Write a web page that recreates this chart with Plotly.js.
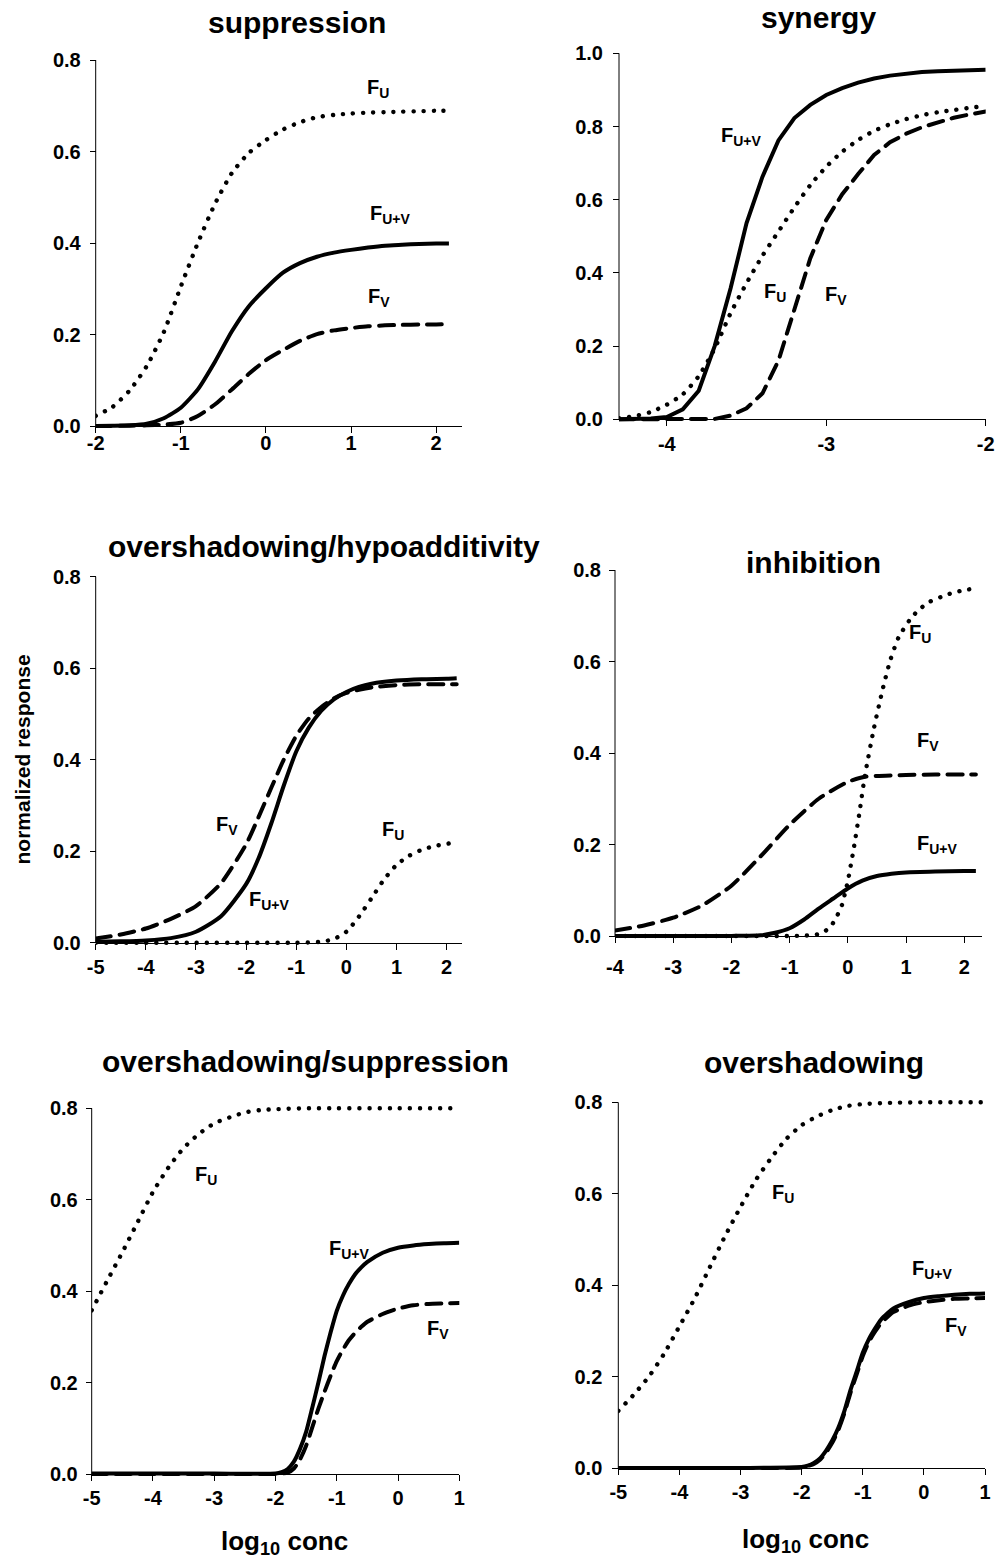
<!DOCTYPE html>
<html><head><meta charset="utf-8">
<script src="https://cdn.plot.ly/plotly-3.0.1.min.js"></script>
<style>html,body{margin:0;padding:0;background:#fff}</style>
</head><body><div id="chart" style="width:1003px;height:1566px"></div>
<script>
// ---------- data ----------
// panel 1: suppression
const sup_x  = [-2,-1.8,-1.6,-1.4,-1.2,-1.0,-0.8,-0.6,-0.4,-0.2,0,0.2,0.4,0.6,0.8,1.0,1.2,1.4,1.6,1.8,2.0,2.15];
const sup_U  = [0.022,0.042,0.078,0.131,0.205,0.305,0.400,0.485,0.553,0.597,0.625,0.648,0.664,0.675,0.680,0.683,0.685,0.686,0.687,0.688,0.689,0.689];
const sup_UV = [0,0.0005,0.0015,0.005,0.017,0.040,0.080,0.140,0.207,0.262,0.301,0.335,0.356,0.370,0.379,0.385,0.390,0.394,0.396,0.398,0.399,0.399];
const sup_V  = [0,0.0003,0.0008,0.0015,0.003,0.007,0.022,0.047,0.080,0.114,0.144,0.166,0.186,0.201,0.209,0.214,0.218,0.220,0.221,0.222,0.222,0.223];

// panel 2: synergy
const syn_x  = [-4.3,-4.2,-4.1,-4.0,-3.9,-3.8,-3.7,-3.6,-3.5,-3.4,-3.3,-3.2,-3.1,-3.0,-2.9,-2.8,-2.7,-2.6,-2.5,-2.4,-2.3,-2.2,-2.1,-2.0];
const syn_UV = [0,0.0005,0.002,0.006,0.027,0.078,0.200,0.358,0.536,0.663,0.762,0.823,0.859,0.886,0.905,0.920,0.931,0.939,0.945,0.949,0.951,0.953,0.954,0.955];
const syn_U  = [0.003,0.009,0.020,0.040,0.068,0.118,0.193,0.290,0.372,0.447,0.513,0.579,0.640,0.690,0.731,0.763,0.788,0.806,0.820,0.831,0.839,0.845,0.851,0.856];
const syn_V  = [0,0,0,0,0,0.0002,0.001,0.010,0.030,0.071,0.160,0.300,0.440,0.545,0.615,0.670,0.722,0.757,0.780,0.798,0.812,0.824,0.833,0.841];

// panel 3: overshadowing/hypoadditivity
const hyp_x  = [-5,-4.5,-4,-3.5,-3,-2.5,-2,-1.75,-1.5,-1.25,-1,-0.75,-0.5,-0.25,0,0.25,0.5,1,1.5,2,2.2];
const hyp_UV = [0.002,0.003,0.005,0.010,0.024,0.058,0.128,0.185,0.260,0.343,0.418,0.470,0.507,0.532,0.548,0.559,0.566,0.573,0.576,0.577,0.578];
const hyp_V  = [0.009,0.018,0.031,0.052,0.080,0.130,0.215,0.275,0.338,0.400,0.452,0.490,0.515,0.534,0.546,0.553,0.558,0.563,0.565,0.565,0.565];
const hyp_U_x = [-5,-4,-3,-2,-1,-0.5,-0.25,0,0.25,0.5,0.75,1.0,1.25,1.5,1.75,2.05];
const hyp_U   = [0,0,0,0,0,0.002,0.008,0.024,0.057,0.097,0.138,0.170,0.190,0.203,0.211,0.217];

// panel 4: inhibition
const inh_V_x  = [-4,-3.5,-3,-2.5,-2,-1.5,-1,-0.5,0,0.3,0.5,1,1.5,2,2.2];
const inh_V    = [0.012,0.023,0.040,0.067,0.110,0.174,0.243,0.300,0.337,0.348,0.350,0.352,0.353,0.353,0.353];
const inh_UV_x = [-4,-3,-2,-1.5,-1.25,-1,-0.75,-0.5,-0.25,0,0.25,0.5,0.75,1,1.5,2,2.2];
const inh_UV   = [0,0,0.0002,0.0015,0.007,0.017,0.036,0.060,0.082,0.104,0.121,0.131,0.136,0.139,0.141,0.142,0.142];
const inh_U_x  = [-4,-3,-2,-1.5,-1,-0.8,-0.6,-0.45,-0.3,-0.2,-0.1,-0.05,0,0.1,0.2,0.29,0.45,0.6,0.73,0.87,1.07,1.22,1.4,1.6,1.8,2.0,2.1];
const inh_U    = [0,0,0,0,0,0.0005,0.002,0.006,0.020,0.040,0.068,0.093,0.120,0.190,0.270,0.348,0.455,0.540,0.603,0.652,0.692,0.713,0.730,0.741,0.750,0.756,0.758];

// panel 5: overshadowing/suppression
const oss_U_x = [-5,-4.75,-4.5,-4.25,-4,-3.75,-3.5,-3.25,-3,-2.75,-2.5,-2.25,-2,-1.5,-1,0,1];
const oss_U   = [0.358,0.422,0.485,0.551,0.617,0.670,0.713,0.744,0.767,0.780,0.791,0.796,0.798,0.800,0.800,0.800,0.800];
const oss_x   = [-5,-4,-3,-2,-1.9,-1.8,-1.7,-1.6,-1.5,-1.4,-1.3,-1.2,-1.1,-1.0,-0.9,-0.8,-0.7,-0.6,-0.5,-0.25,0,0.25,0.5,0.75,1.0];
const oss_UV  = [0.001,0.001,0.001,0.001,0.004,0.011,0.027,0.055,0.092,0.145,0.200,0.258,0.310,0.357,0.390,0.416,0.437,0.452,0.464,0.484,0.495,0.500,0.503,0.505,0.506];
const oss_V   = [0,0,0,0,0.001,0.003,0.012,0.032,0.062,0.102,0.143,0.180,0.215,0.247,0.272,0.293,0.309,0.322,0.333,0.350,0.362,0.369,0.372,0.373,0.374];

// panel 6: overshadowing
const ovr_U_x = [-5,-4.75,-4.5,-4.25,-4,-3.75,-3.5,-3.25,-3,-2.75,-2.5,-2.25,-2,-1.75,-1.5,-1.25,-1,-0.5,0,1];
const ovr_U   = [0.125,0.160,0.200,0.250,0.310,0.371,0.440,0.508,0.571,0.630,0.678,0.720,0.750,0.769,0.783,0.792,0.796,0.799,0.800,0.800];
const ovr_x   = [-5,-3,-2,-1.9,-1.8,-1.7,-1.6,-1.5,-1.4,-1.3,-1.2,-1.1,-1.0,-0.9,-0.8,-0.7,-0.6,-0.5,-0.25,0,0.25,0.5,0.75,1.0];
const ovr_UV  = [0,0,0.002,0.005,0.011,0.021,0.038,0.060,0.088,0.125,0.171,0.211,0.252,0.282,0.305,0.325,0.338,0.349,0.363,0.372,0.376,0.379,0.381,0.382];
const ovr_V   = [0,0,0.001,0.004,0.009,0.018,0.034,0.055,0.083,0.120,0.165,0.205,0.245,0.276,0.298,0.317,0.330,0.341,0.355,0.363,0.367,0.370,0.371,0.372];

// tick values / labels (x axes)
const xt_sup = [-2,-1,0,1,2],            xl_sup = ['-2','-1','0','1','2'];
const xt_syn = [-4,-3,-2],               xl_syn = ['-4','-3','-2'];
const xt_hyp = [-5,-4,-3,-2,-1,0,1,2],   xl_hyp = ['-5','-4','-3','-2','-1','0','1','2'];
const xt_inh = [-4,-3,-2,-1,0,1,2],      xl_inh = ['-4','-3','-2','-1','0','1','2'];
const xt_ov  = [-5,-4,-3,-2,-1,0,1],     xl_ov  = ['-5','-4','-3','-2','-1','0','1'];

const titles = ['suppression','synergy','overshadowing/hypoadditivity','inhibition','overshadowing/suppression','overshadowing'];
const LBL_U = 'F<sub>U</sub>', LBL_V = 'F<sub>V</sub>', LBL_UV = 'F<sub>U+V</sub>';
const yTitle = 'normalized response';
const xTitle = 'log<sub>10</sub> conc';

// ---------- layout helpers ----------
const W = 1003, H = 1566;
const FONT = 'Liberation Sans, Arial, Helvetica, sans-serif';
const fx = v => v / W, fy = v => 1 - v / H;
const PAD = 5; // px of extra plot area so thick lines at the range ends are not clipped

const panels = [
  {xd:[95.7,461.7],  yd:[60,426],        xr:[-2,2.3],  yr:[0,0.8], xt:xt_sup, xl:xl_sup, xso:-7,  yso:5},
  {xd:[619,985.7],   yd:[53.3,419.3],    xr:[-4.3,-2], yr:[0,1.0], xt:xt_syn, xl:xl_syn, xso:1,   yso:6},
  {xd:[95.7,461.7],  yd:[576.7,942.7],   xr:[-5,2.3],  yr:[0,0.8], xt:xt_hyp, xl:xl_hyp, xso:5.8, yso:5},
  {xd:[615,981.7],   yd:[570,936],       xr:[-4,2.3],  yr:[0,0.8], xt:xt_inh, xl:xl_inh, xso:7,   yso:4},
  {xd:[91.7,459.3],  yd:[1108.3,1474],   xr:[-5,1],    yr:[0,0.8], xt:xt_ov,  xl:xl_ov,  xso:4.5, yso:4},
  {xd:[618.3,985],   yd:[1102.3,1468],   xr:[-5,1],    yr:[0,0.8], xt:xt_ov,  xl:xl_ov,  xso:5.5, yso:6}
];

const SOLID = {color:'#000', width:4};
const DASH  = {color:'#000', width:4, dash:'15px,9px'};
const DOT   = {color:'#000', width:4.4, dash:'3px,7px'};

function tr(x, y, line, i, shape){
  const s = i === 1 ? '' : String(i);
  return {type:'scatter', mode:'lines', x:x, y:y,
    line:Object.assign({shape:shape || 'spline', smoothing:0.6}, line),
    xaxis:'x'+s, yaxis:'y'+s, hoverinfo:'skip', showlegend:false};
}

const data = [
  tr(sup_x, sup_V, DASH, 1), tr(sup_x, sup_UV, SOLID, 1), tr(sup_x, sup_U, DOT, 1),
  tr(syn_x, syn_V, DASH, 2, 'linear'), tr(syn_x, syn_UV, SOLID, 2, 'linear'), tr(syn_x, syn_U, DOT, 2),
  tr(hyp_x, hyp_V, DASH, 3), tr(hyp_x, hyp_UV, SOLID, 3), tr(hyp_U_x, hyp_U, DOT, 3),
  tr(inh_V_x, inh_V, DASH, 4), tr(inh_UV_x, inh_UV, SOLID, 4), tr(inh_U_x, inh_U, DOT, 4),
  tr(oss_x, oss_V, DASH, 5), tr(oss_x, oss_UV, SOLID, 5), tr(oss_U_x, oss_U, DOT, 5),
  tr(ovr_x, ovr_V, DASH, 6), tr(ovr_x, ovr_UV, SOLID, 6), tr(ovr_U_x, ovr_U, DOT, 6)
];

const tickFont = {family:FONT, size:20, color:'#000', weight:'bold'};
const layout = {
  width:W, height:H, margin:{l:0,r:0,t:0,b:0},
  paper_bgcolor:'#fff', plot_bgcolor:'rgba(0,0,0,0)',
  showlegend:false, annotations:[], shapes:[]
};

panels.forEach((p, k) => {
  const i = k + 1, s = i === 1 ? '' : String(i);
  const perPx = (p.yr[1] - p.yr[0]) / (p.yd[1] - p.yd[0]);
  layout['xaxis'+s] = {
    domain:[fx(p.xd[0]), fx(p.xd[1])], range:p.xr,
    anchor:'free', position:fy(p.yd[1]),
    showline:true, linecolor:'#000', linewidth:1,
    ticks:'outside', ticklen:6, tickwidth:1, tickcolor:'#000',
    tickmode:'array', tickvals:p.xt, ticktext:p.xl, ticklabelstandoff:p.xso,
    showgrid:false, zeroline:false, tickfont:tickFont, fixedrange:true
  };
  layout['yaxis'+s] = {
    domain:[fy(p.yd[1] + PAD), fy(p.yd[0] - PAD)],
    range:[p.yr[0] - PAD*perPx, p.yr[1] + PAD*perPx],
    anchor:'free', position:fx(p.xd[0]),
    showline:false, ticks:'outside', ticklen:6, tickwidth:1, tickcolor:'#000',
    tick0:0, dtick:0.2, tickformat:'.1f', ticklabelstandoff:p.yso,
    showgrid:false, zeroline:false, tickfont:tickFont, fixedrange:true
  };
  // vertical axis line from the 0 tick to the top tick
  layout.shapes.push({type:'line', xref:'paper', yref:'paper', layer:'below',
    x0:fx(p.xd[0]), x1:fx(p.xd[0]), y0:fy(p.yd[1]), y1:fy(p.yd[0]),
    line:{color:'#000', width:1}});
});

// panel titles (paper coords from pixel positions)
const titlePos = [[296.7,22.5],[818.3,17.5],[324,546],[813.3,562.5],[305,1061],[814,1062.5]];
titles.forEach((t, k) => {
  layout.annotations.push({text:t, xref:'paper', yref:'paper',
    x:fx(titlePos[k][0]), y:fy(titlePos[k][1]), xanchor:'center', yanchor:'middle',
    showarrow:false, font:{family:FONT, size:30, color:'#000', weight:'bold'}});
});

// axis titles
layout.annotations.push({text:yTitle, xref:'paper', yref:'paper', x:fx(22.5), y:fy(760),
  xanchor:'center', yanchor:'middle', textangle:-90, showarrow:false,
  font:{family:FONT, size:21, color:'#000', weight:'bold'}});
[[284,1542],[805,1540]].forEach(q => {
  layout.annotations.push({text:xTitle, xref:'paper', yref:'paper', x:fx(q[0]), y:fy(q[1]),
    xanchor:'center', yanchor:'middle', showarrow:false,
    font:{family:FONT, size:26, color:'#000', weight:'bold'}});
});

// curve labels (data coords): [panel, text, x, y]
const labels = [
  [1, LBL_U, 1.16, 0.737], [1, LBL_UV, 1.20, 0.463], [1, LBL_V, 1.18, 0.280],
  [2, LBL_UV, -3.67, 0.774], [2, LBL_U, -3.40, 0.346], [2, LBL_V, -3.02, 0.337],
  [3, LBL_V, -2.65, 0.257], [3, LBL_UV, -1.99, 0.093], [3, LBL_U, 0.67, 0.246],
  [4, LBL_U, 1.01, 0.662], [4, LBL_V, 1.15, 0.425], [4, LBL_UV, 1.15, 0.199],
  [5, LBL_U, -3.34, 0.653], [5, LBL_UV, -1.16, 0.492], [5, LBL_V, 0.44, 0.316],
  [6, LBL_U, -2.52, 0.600], [6, LBL_UV, -0.226, 0.435], [6, LBL_V, 0.32, 0.310]
];
labels.forEach(l => {
  const s = l[0] === 1 ? '' : String(l[0]);
  layout.annotations.push({text:l[1], xref:'x'+s, yref:'y'+s, x:l[2], y:l[3],
    xanchor:'left', yanchor:'middle', showarrow:false,
    font:{family:FONT, size:20, color:'#000', weight:'bold'}});
});

Plotly.newPlot('chart', data, layout, {staticPlot:true, displayModeBar:false}).then(() => {
  // round caps: dotted lines become round dots, dashes get rounded ends (as in the reference)
  document.querySelectorAll('.scatterlayer path.js-line').forEach(el => {
    const d = (el.style.strokeDasharray || '').replace(/\s/g, '');
    if (d.indexOf('3px,7px') === 0) {
      el.style.strokeDasharray = '0.1px,10px';
      el.style.strokeLinecap = 'round';
    } else if (d.indexOf('15px,9px') === 0) {
      el.style.strokeLinecap = 'round';
    }
  });
});
</script>
</body></html>
